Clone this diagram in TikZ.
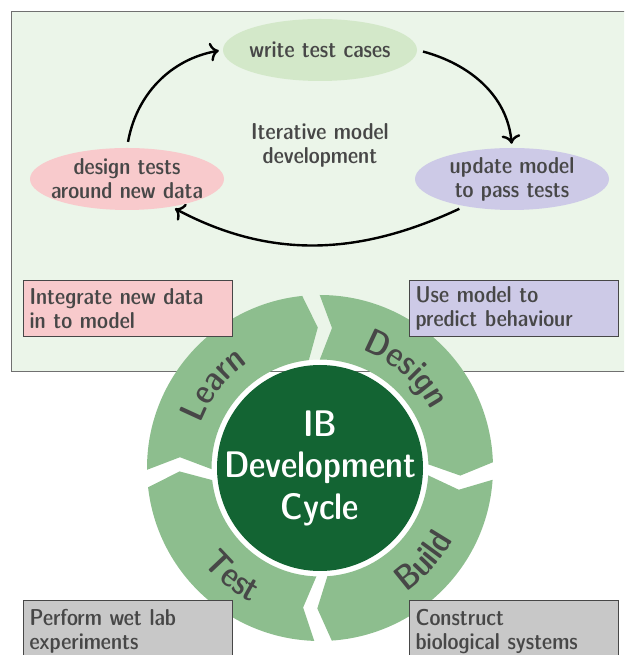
\documentclass[tikz,border=0pt]{standalone}
\usetikzlibrary{positioning}
\usetikzlibrary{shapes.geometric}
\usetikzlibrary{decorations.text}
\usetikzlibrary{arrows.meta}
\usepackage{xcolor}

\definecolor{panelfill}{HTML}{EBF5E9}
\definecolor{panelline}{HTML}{707070}
\definecolor{textgray}{HTML}{474747}
\definecolor{learnpink}{HTML}{F8CACC}
\definecolor{designlilac}{HTML}{CDCAE7}
\definecolor{buildgray}{HTML}{C8C8C8}
\definecolor{writegreen}{HTML}{D3E8C9}
\definecolor{ringgreen}{HTML}{8DBE8E}
\definecolor{cycledark}{HTML}{136433}

\newcommand{\smallfont}{\fontseries{sbc}\sffamily\fontsize{23}{24}\selectfont}
\newcommand{\ringfont}{\fontseries{sbc}\sffamily\fontsize{35}{40}\selectfont}
\newcommand{\centrefont}{\fontseries{sbc}\sffamily\fontsize{37}{41.5}\selectfont}

\tikzset{
  stagebox/.style={draw=textgray, line width=1.2pt, text=textgray, font=\smallfont,
    align=left, text width=197pt, inner xsep=6pt, inner ysep=0pt,
    minimum height=56pt, anchor=north west},
  stepell/.style={ellipse, inner sep=-12pt, minimum width=194pt, minimum height=62pt,
    text=textgray, font=\smallfont, align=center},
  cyclearrow/.style={line width=2.4pt, -{To[scale=1.3]}, shorten <=6pt, shorten >=4pt},
  ringlabel/.style={decorate, decoration={text along path, text align=center,
    text color=textgray, text={|\ringfont|#1}}}
}

\begin{document}
\begin{tikzpicture}[x=1pt, y=1pt]
\useasboundingbox (0,0) rectangle (624,655);
\clip (0,0) rectangle (624,655);

% iterative model panel
\fill[panelfill] (11.5,283.3) rectangle (640,643.5);
\node[stepell, fill=writegreen] (write) at (320,605) {write test cases};
\node[stepell, fill=learnpink] (designtests) at (127,476) {design tests\\around new data};
\node[stepell, fill=designlilac] (update) at (512,476) {update model\\to pass tests};
\node[text=textgray, font=\smallfont, align=center] (iterative) at (320,510) {Iterative model\\development};
\draw[cyclearrow] (designtests.north) to[out=80, in=190] (write.west);
\draw[cyclearrow] (write.east) to[out=-15, in=95] (update.north);
\draw[cyclearrow] (update.210) to[out=205, in=-28] (designtests.-32);

% development cycle
\fill[white] (320,187) circle (108.5);
\draw[panelline, line width=1.2pt] (11.5,283.3) rectangle (640,643.5);
\begin{scope}[shift={(320,187)}]
  \foreach \a/\b in {183.5/93, 93/-1, -1/-89, -89/-176.5}
    \fill[ringgreen] ({\a-2.9}:173) arc[start angle=\a-2.9, end angle=\b+2.9, radius=173]
      -- ({\b-2.1}:140.5) -- ({\b+2.9}:108.5)
      arc[start angle=\b+2.9, end angle=\a-2.9, radius=108.5]
      -- ({\a-7.9}:140.5) -- cycle;
  \path[ringlabel=Learn] (182:127) arc[start angle=182, end angle=102, radius=127];
  \path[ringlabel=Design] (89:125) arc[start angle=89, end angle=9, radius=125];
  \path[ringlabel=Build] (-81.8:151) arc[start angle=-81.8, end angle=-1.8, radius=151];
  \path[ringlabel=Test] (191:151) arc[start angle=191, end angle=271, radius=151];
  \fill[cycledark] (0,0) circle (103);
\end{scope}
\node[text=white, font=\centrefont, align=center] (ibcycle) at (320,187) {IB\\Development\\Cycle};

% stage boxes
\node[stagebox, fill=learnpink] (learnbox) at (23,375) {Integrate new data\\in to model};
\node[stagebox, fill=designlilac] (designbox) at (409,375) {Use model to\\predict behaviour};
\node[stagebox, fill=buildgray, minimum height=62pt] (testbox) at (23,55) {Perform wet lab\\experiments};
\node[stagebox, fill=buildgray, minimum height=62pt] (buildbox) at (409,55) {Construct\\biological systems};
\end{tikzpicture}
\end{document}
